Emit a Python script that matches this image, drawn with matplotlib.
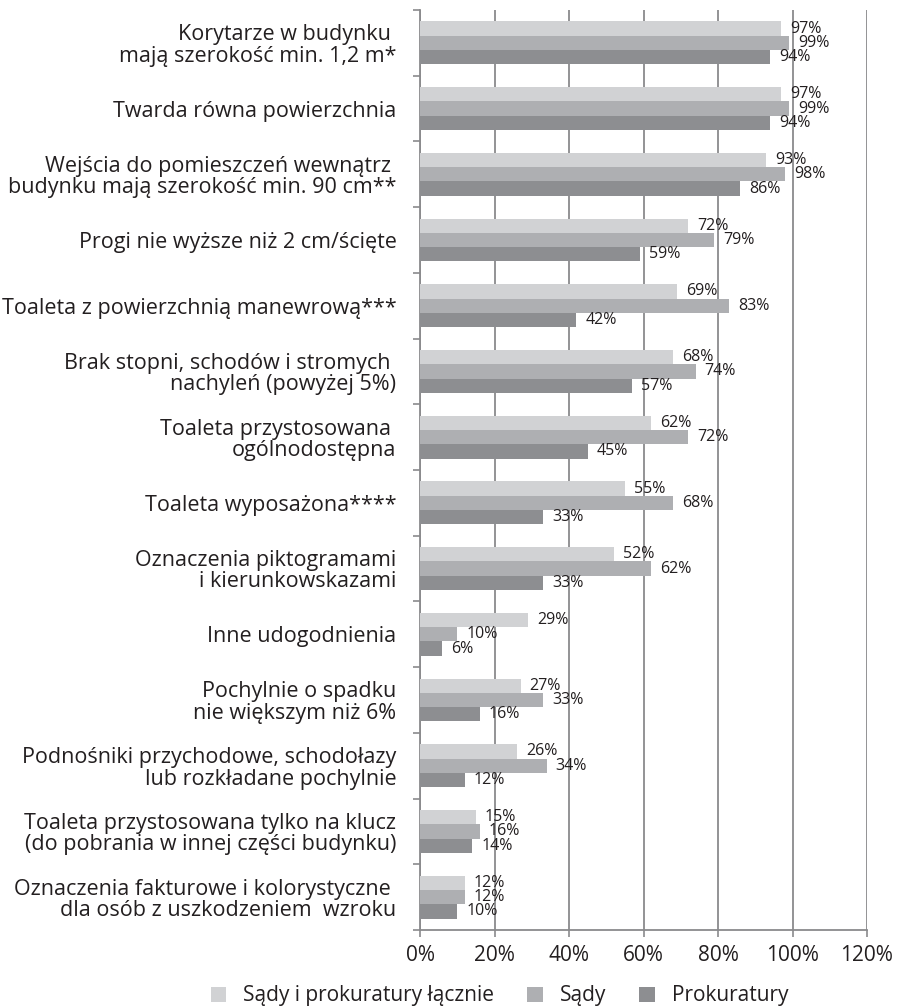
import matplotlib
matplotlib.use("Agg")
import matplotlib.pyplot as plt
import numpy as np

categories = [
    "Korytarze w budynku \nmają szerokość min. 1,2 m*",
    "Twarda równa powierzchnia",
    "Wejścia do pomieszczeń wewnątrz \nbudynku mają szerokość min. 90 cm**",
    "Progi nie wyższe niż 2 cm/ścięte",
    "Toaleta z powierzchnią manewrową***",
    "Brak stopni, schodów i stromych \nnachyleń (powyżej 5%)",
    "Toaleta przystosowana \nogólnodostępna",
    "Toaleta wyposażona****",
    "Oznaczenia piktogramami\ni kierunkowskazami",
    "Inne udogodnienia",
    "Pochylnie o spadku\nnie większym niż 6%",
    "Podnośniki przychodowe, schodołazy\nlub rozkładane pochylnie",
    "Toaleta przystosowana tylko na klucz\n(do pobrania w innej części budynku)",
    "Oznaczenia fakturowe i kolorystyczne \ndla osób z uszkodzeniem  wzroku",
]
series_names = ["Sądy i prokuratury łącznie", "Sądy", "Prokuratury"]
lacznie = [97, 97, 93, 72, 69, 68, 62, 55, 52, 29, 27, 26, 15, 12]
sady = [99, 99, 98, 79, 83, 74, 72, 68, 62, 10, 33, 34, 16, 12]
prokuratury = [94, 94, 86, 59, 42, 57, 45, 33, 33, 6, 16, 12, 14, 10]
xticks = [0, 20, 40, 60, 80, 100, 120]

colors = ["#d1d2d4", "#aeafb2", "#8d8e91"]
grid_c = "#8a8a8c"
txt_c = "#231f20"

plt.rcParams['font.family'] = ['Open Sans', 'DejaVu Sans']

fig = plt.figure(figsize=(9.05, 10.07), dpi=100)
ax = fig.add_axes([420/905, 1-930/1007, (867-420)/905, (930-10)/1007])

n = len(categories)
y = np.arange(n)
h = 0.218
data = [lacznie, sady, prokuratury]
for i, (vals, c, name) in enumerate(zip(data, colors, series_names)):
    pos = y + (i - 1) * h
    ax.barh(pos, vals, height=h, color=c, label=name, zorder=3)
    for p, v in zip(pos, vals):
        ax.annotate(f"{v}%", (v, p), xytext=(6.5, 0), textcoords="offset points",
                    ha="left", va="center", fontsize=11.5, color=txt_c, zorder=4)

ax.set_ylim(n - 0.5, -0.5)
ax.set_xlim(0, 120)
ax.set_xticks(xticks)
ax.set_xticklabels([f"{t}%" for t in xticks], fontsize=15, color=txt_c)
ax.set_yticks(y)
ax.set_yticklabels(categories, fontsize=15.5, color=txt_c, linespacing=1.02)
ax.set_yticks(np.arange(n + 1) - 0.5, minor=True)
ax.tick_params(axis="y", which="major", length=0, pad=17)
ax.tick_params(axis="y", which="minor", length=5, color=grid_c, width=1.2)
ax.tick_params(axis="x", which="major", length=5, color=grid_c, width=1.2, pad=6)

ax.grid(axis="x", color=grid_c, linewidth=1.3, zorder=0)
for s in ["top", "right"]:
    ax.spines[s].set_visible(False)
for s in ["left", "bottom"]:
    ax.spines[s].set_color(grid_c)
    ax.spines[s].set_linewidth(1.3)

fig.legend(loc="center", bbox_to_anchor=(0.552, 1-996/1007), ncol=3, frameon=False,
           fontsize=15, handlelength=0.75, handleheight=0.75, columnspacing=1.6,
           handletextpad=0.8, labelcolor=txt_c, borderpad=0, borderaxespad=0)

fig.savefig("out.png", dpi=100)
